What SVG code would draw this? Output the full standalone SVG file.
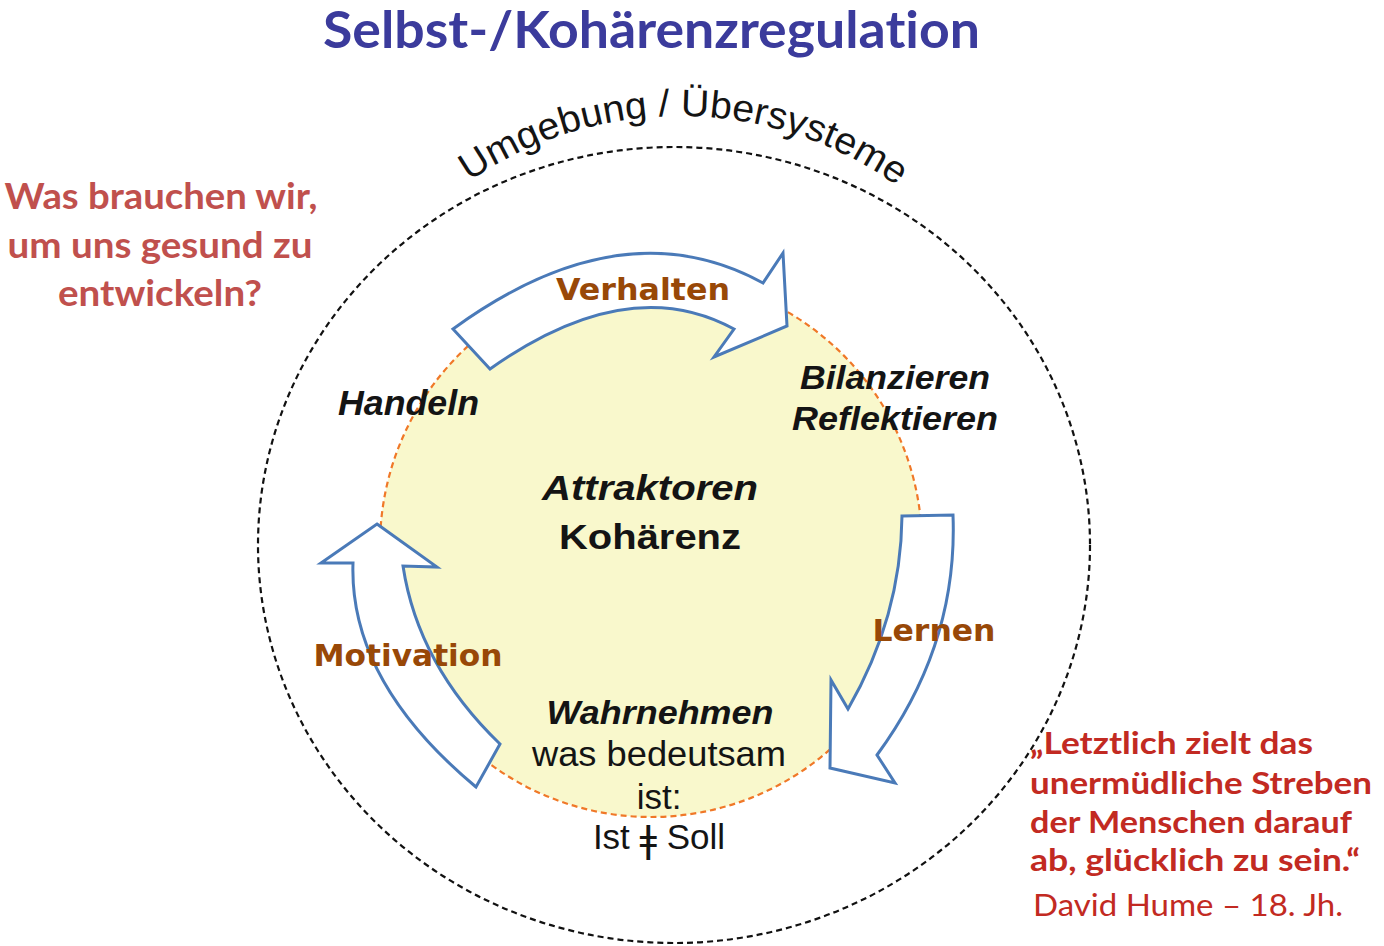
<svg xmlns="http://www.w3.org/2000/svg" width="1384" height="946" viewBox="0 0 1384 946">
<defs>
<style>
.title{font-family:Lato,"Open Sans",sans-serif;font-weight:bold;fill:#3b3b9c;font-variant-ligatures:none}
.q{font-family:Lato,"Open Sans",sans-serif;font-weight:bold;fill:#c0504d;font-variant-ligatures:none}
.quote{font-family:Lato,"Open Sans",sans-serif;font-weight:bold;fill:#c22a22;font-variant-ligatures:none}
.hume{font-family:Lato,"Open Sans",sans-serif;fill:#c22a22}
.brown{font-family:"DejaVu Sans",Verdana,sans-serif;font-weight:bold;fill:#984807}
.bi{font-family:"Liberation Sans",Arial,sans-serif;font-weight:bold;font-style:italic;fill:#141414}
.b{font-family:"Liberation Sans",Arial,sans-serif;font-weight:bold;fill:#141414}
.r{font-family:"Liberation Sans","DejaVu Sans",Arial,sans-serif;fill:#141414}
.arrow{fill:#ffffff;stroke:#4a7ab8;stroke-width:3;stroke-linejoin:miter}
</style>
<path id="arcText" d="M308,488 A372,372 0 0 1 1052,488"/>
</defs>
<rect width="1384" height="946" fill="#ffffff"/>

<g id="title"><text class="title" x="323" y="48" font-size="51" textLength="657" lengthAdjust="spacingAndGlyphs">Selbst-/Kohärenzregulation</text></g>

<g id="environment">
<ellipse cx="674" cy="545" rx="416" ry="398" fill="none" stroke="#111" stroke-width="2.2" stroke-dasharray="6,4"/>
<text class="r" font-size="38"><textPath href="#arcText" startOffset="360" textLength="456" lengthAdjust="spacingAndGlyphs">Umgebung / Übersysteme</textPath></text>
</g>

<g id="core">
<circle cx="651" cy="546" r="271" fill="#f9f8cc" stroke="#f07828" stroke-width="2.2" stroke-dasharray="6,4"/>
<text class="bi" x="650" y="500" font-size="35" text-anchor="middle" textLength="216" lengthAdjust="spacingAndGlyphs">Attraktoren</text>
<text class="b" x="650" y="549" font-size="35" text-anchor="middle" textLength="182" lengthAdjust="spacingAndGlyphs">Kohärenz</text>
</g>

<g id="connectors">
<path class="arrow" d="M453,329 Q622,206 763,283 L783,253 L787,326 L714,357 L734,329 Q628,271 490,369 Z"/>
<path class="arrow" d="M902,516 L953,515 Q958,645 877,755 L895,783 L830,768 L831,680 L848,709 Q901,617 902,516 Z"/>
<path class="arrow" d="M377,524 L437,567 L403,566 Q418,665 500,744 L476,787 Q349,681 353,563 L321,563 Z"/>
</g>

<g id="verhalten"><text class="brown" x="643" y="300" font-size="31" text-anchor="middle" textLength="174" lengthAdjust="spacingAndGlyphs">Verhalten</text></g>
<g id="lernen"><text class="brown" x="934" y="641" font-size="31" text-anchor="middle" textLength="123" lengthAdjust="spacingAndGlyphs">Lernen</text></g>
<g id="motivation"><text class="brown" x="408" y="666" font-size="31" text-anchor="middle" textLength="189" lengthAdjust="spacingAndGlyphs">Motivation</text></g>

<g id="handeln"><text class="bi" x="338" y="415" font-size="35" textLength="141" lengthAdjust="spacingAndGlyphs">Handeln</text></g>
<g id="bilanzieren">
<text class="bi" x="895" y="389" font-size="34" text-anchor="middle" textLength="190" lengthAdjust="spacingAndGlyphs">Bilanzieren</text>
<text class="bi" x="895" y="430" font-size="34" text-anchor="middle" textLength="206" lengthAdjust="spacingAndGlyphs">Reflektieren</text>
</g>
<g id="wahrnehmen">
<text class="bi" x="660" y="724" font-size="34" text-anchor="middle" textLength="227" lengthAdjust="spacingAndGlyphs">Wahrnehmen</text>
<text class="r" x="659" y="766" font-size="35" text-anchor="middle" textLength="254" lengthAdjust="spacingAndGlyphs">was bedeutsam</text>
<text class="r" x="659" y="809" font-size="35" text-anchor="middle">ist:</text>
<text class="r" x="659" y="849" font-size="35" text-anchor="middle">Ist <tspan font-family="'DejaVu Sans',sans-serif" font-weight="400" font-size="38" dy="3">ǂ</tspan><tspan dy="-3"> Soll</tspan></text>
</g>

<g id="question">
<text class="q" x="161" y="209" font-size="36" text-anchor="middle" textLength="313" lengthAdjust="spacingAndGlyphs">Was brauchen wir,</text>
<text class="q" x="160" y="258" font-size="36" text-anchor="middle" textLength="305" lengthAdjust="spacingAndGlyphs">um uns gesund zu</text>
<text class="q" x="160" y="306" font-size="36" text-anchor="middle" textLength="204" lengthAdjust="spacingAndGlyphs">entwickeln?</text>
</g>

<g id="quote">
<text class="quote" x="1030" y="754" font-size="31" textLength="283" lengthAdjust="spacingAndGlyphs">„Letztlich zielt das</text>
<text class="quote" x="1030" y="794" font-size="31" textLength="342" lengthAdjust="spacingAndGlyphs">unermüdliche Streben</text>
<text class="quote" x="1030" y="833" font-size="31" textLength="322" lengthAdjust="spacingAndGlyphs">der Menschen darauf</text>
<text class="quote" x="1030" y="871" font-size="31" textLength="330" lengthAdjust="spacingAndGlyphs">ab, glücklich zu sein.“</text>
<text class="hume" x="1033" y="916" font-size="31" textLength="310" lengthAdjust="spacingAndGlyphs">David Hume – 18. Jh.</text>
</g>
</svg>
